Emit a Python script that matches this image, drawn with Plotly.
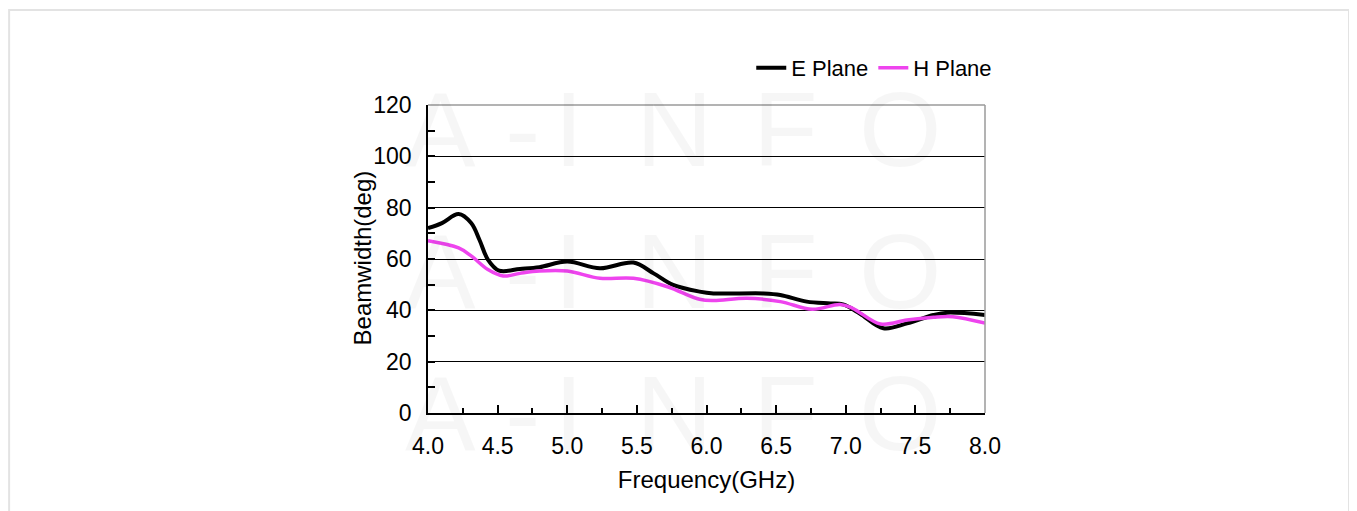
import plotly.graph_objects as go

# ---- data ----
e_freq = [4.0, 4.1, 4.22, 4.31, 4.37, 4.43, 4.51, 4.66, 4.8, 5.0, 5.235, 5.475, 5.62, 5.76, 5.95,
          6.05, 6.41, 6.53, 6.72, 6.89, 6.98, 7.1, 7.27, 7.44, 7.63, 7.73, 8.0]
e_plane = [72.0, 74.0, 77.5, 74.0, 67.4, 59.8, 55.5, 56.1, 56.8, 59.0, 56.4, 58.6, 54.4, 49.9, 47.3,
           46.6, 46.6, 46.0, 43.4, 42.7, 42.3, 38.8, 33.0, 34.9, 38.2, 39.1, 38.2]

h_freq = [4.0, 4.22, 4.31, 4.43, 4.54, 4.66, 4.8, 5.0, 5.235, 5.475, 5.72, 5.95,
          6.05, 6.29, 6.53, 6.76, 6.96, 7.05, 7.25, 7.44, 7.63, 7.77, 8.0]
h_plane = [67.1, 64.3, 61.2, 55.9, 53.4, 54.4, 55.3, 55.3, 52.5, 52.5, 49.2, 44.3,
           43.8, 44.7, 43.4, 40.4, 42.3, 40.8, 34.7, 36.2, 37.3, 37.5, 35.0]

series_names = ["E Plane", "H Plane"]
series_colors = ["#000000", "#ee44ee"]
x_ticks = [4.0, 4.5, 5.0, 5.5, 6.0, 6.5, 7.0, 7.5, 8.0]
y_ticks = [0, 20, 40, 60, 80, 100, 120]
watermark_letters = ["A", "-", "I", "N", "F", "O"]
x_title = "Frequency(GHz)"
y_title = "Beamwidth(deg)"

FONT = "Liberation Sans, Arial, sans-serif"

fig = go.Figure()
fig.add_trace(go.Scatter(x=e_freq, y=e_plane, name=series_names[0], mode="lines",
                         line=dict(color=series_colors[0], width=4, shape="spline", smoothing=1.0)))
fig.add_trace(go.Scatter(x=h_freq, y=h_plane, name=series_names[1], mode="lines",
                         line=dict(color=series_colors[1], width=3.5, shape="spline", smoothing=1.0)))

# faint watermarks (three rows of "A-INFO")
wm_x = [0.0233, 0.169, 0.253, 0.443, 0.641, 0.847]
for yy in [0.922, 0.461, 0.0]:
    for lx, letter in zip(wm_x, watermark_letters):
        fig.add_annotation(x=lx, y=yy, xref="paper", yref="paper", text=letter,
                           xanchor="center", yanchor="middle", showarrow=False,
                           font=dict(family=FONT, size=106, color="rgba(0,0,0,0.035)"))

# y axis title
fig.add_annotation(x=-0.1185, y=0.505, xref="paper", yref="paper", text=y_title, textangle=-90,
                   xanchor="center", yanchor="middle", showarrow=False,
                   font=dict(family=FONT, size=24, color="#000"))

fig.update_layout(
    width=1349, height=503,
    margin=dict(l=420, r=372, t=97, b=98),
    paper_bgcolor="white", plot_bgcolor="white",
    font=dict(family=FONT, size=23, color="#000"),
    showlegend=True,
    legend=dict(orientation="h", x=1.022, xanchor="right", y=1.12, yanchor="middle",
                font=dict(size=22), bgcolor="rgba(0,0,0,0)", itemwidth=30,
                tracegroupgap=0),
    xaxis=dict(range=[4.0, 8.0], tickvals=x_ticks, tickformat=".1f",
               ticks="inside", ticklen=8, tickwidth=1.5, tickcolor="#000",
               minor=dict(dtick=0.25, tick0=4.0, ticks="inside", ticklen=5, tickwidth=1.5, tickcolor="#000"),
               showline=True, linecolor="#000", linewidth=1.5, showgrid=False, zeroline=False,
               title=dict(text=x_title, font=dict(size=24), standoff=13),
               ticklabelstandoff=12),
    yaxis=dict(range=[0, 120], tickvals=y_ticks,
               ticks="inside", ticklen=7, tickwidth=1.5, tickcolor="#000",
               minor=dict(dtick=10, tick0=0, ticks="inside", ticklen=7, tickwidth=1.5, tickcolor="#000", showgrid=False),
               showline=True, linecolor="#000", linewidth=1.5,
               showgrid=True, gridcolor="#000", gridwidth=1, zeroline=False,
               ticklabelstandoff=10),
)

# gray top / right frame of plot area
fig.add_shape(type="line", xref="paper", yref="paper", x0=0, x1=1, y0=1, y1=1,
              line=dict(color="#9a9a9a", width=1.5), layer="above")
fig.add_shape(type="line", xref="paper", yref="paper", x0=1, x1=1, y0=0, y1=1,
              line=dict(color="#9a9a9a", width=1.5), layer="above")
# outer light border of the image
fig.add_shape(type="rect", xref="paper", yref="paper", x0=-0.752, x1=1.6535, y0=-0.4, y1=1.3084,
              line=dict(color="#e3e3e3", width=2), layer="below")

fig.write_html("out.html")
